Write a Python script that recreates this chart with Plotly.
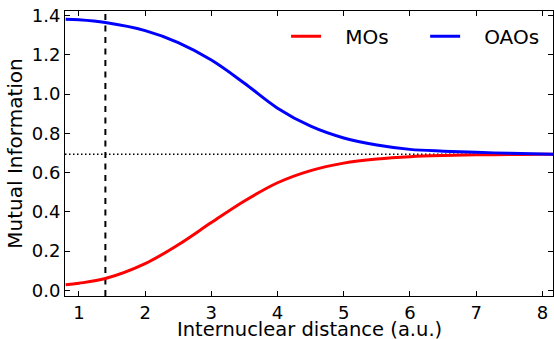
import numpy as np
import plotly.graph_objects as go

# Internuclear distance grid (a.u.)
distance = [0.8, 1.0, 1.4, 2.0, 2.5, 3.0, 3.5, 4.0, 4.5, 5.0, 5.5, 6.0, 6.5, 7.0, 7.5, 8.0, 8.2]

# Mutual information in the molecular-orbital basis
mi_mos = [0.028, 0.036, 0.060, 0.136, 0.232, 0.345, 0.455, 0.548, 0.610, 0.648, 0.669, 0.681, 0.687, 0.690, 0.692, 0.693, 0.693]

# Mutual information in the orthogonalised atomic-orbital basis
mi_oaos = [1.381, 1.378, 1.364, 1.323, 1.262, 1.173, 1.055, 0.928, 0.836, 0.776, 0.740, 0.718, 0.709, 0.703, 0.698, 0.694, 0.693]

eq_distance = 1.4          # equilibrium bond length
ln2 = float(np.log(2))     # asymptotic limit

x_ticks = [1, 2, 3, 4, 5, 6, 7, 8]
y_ticks = [0.0, 0.2, 0.4, 0.6, 0.8, 1.0, 1.2, 1.4]
y_tick_labels = ["0.0", "0.2", "0.4", "0.6", "0.8", "1.0", "1.2", "1.4"]

x_range = [0.79, 8.16]
y_range = [-0.029, 1.423]

GAP = "\u00a0" * 3  # extra room between legend swatch and label

fig = go.Figure()

# reference lines
fig.add_trace(go.Scatter(
    x=x_range, y=[ln2, ln2], mode="lines", showlegend=False, hoverinfo="skip",
    line=dict(color="black", width=1.5, dash="1.5px,2.5px"),
))
fig.add_trace(go.Scatter(
    x=[eq_distance, eq_distance], y=y_range, mode="lines", showlegend=False, hoverinfo="skip",
    line=dict(color="black", width=2, dash="6px,5.5px"),
))

fig.add_trace(go.Scatter(
    x=distance, y=mi_mos, mode="lines", name=GAP + "MOs", legend="legend",
    line=dict(color="#ff0000", width=3, shape="spline", smoothing=1.0),
))
fig.add_trace(go.Scatter(
    x=distance, y=mi_oaos, mode="lines", name=GAP + "OAOs", legend="legend2",
    line=dict(color="#0000ff", width=3, shape="spline", smoothing=1.0),
))

axis_common = dict(
    showline=True, linecolor="black", linewidth=1, mirror="ticks",
    ticks="inside", ticklen=5, tickwidth=1, tickcolor="black",
    showgrid=False, zeroline=False,
    tickfont=dict(family="DejaVu Sans", size=18, color="black"),
)

legend_common = dict(
    orientation="h", y=0.98, yanchor="top", xanchor="left",
    bgcolor="rgba(0,0,0,0)", font=dict(size=20), itemwidth=30,
)

fig.update_layout(
    width=554, height=339,
    margin=dict(l=65, r=1, t=11, b=43, autoexpand=False),
    paper_bgcolor="white", plot_bgcolor="white",
    font=dict(family="DejaVu Sans", color="black"),
    xaxis=dict(
        range=x_range, tickvals=x_ticks, ticktext=[str(v) for v in x_ticks],
        **axis_common,
    ),
    yaxis=dict(
        range=y_range, tickvals=y_ticks, ticktext=y_tick_labels,
        title=dict(text="Mutual Information", font=dict(size=20), standoff=3),
        **axis_common,
    ),
    legend=dict(x=0.453, **legend_common),
    legend2=dict(x=0.738, **legend_common),
)

# x-axis title placed below the tick labels
fig.add_annotation(
    text="Internuclear distance (a.u.)", xref="paper", yref="paper",
    x=0.5, y=-0.116, xanchor="center", yanchor="middle", showarrow=False,
    font=dict(family="DejaVu Sans", size=19.5, color="black"),
)

fig.write_html("out.html")
